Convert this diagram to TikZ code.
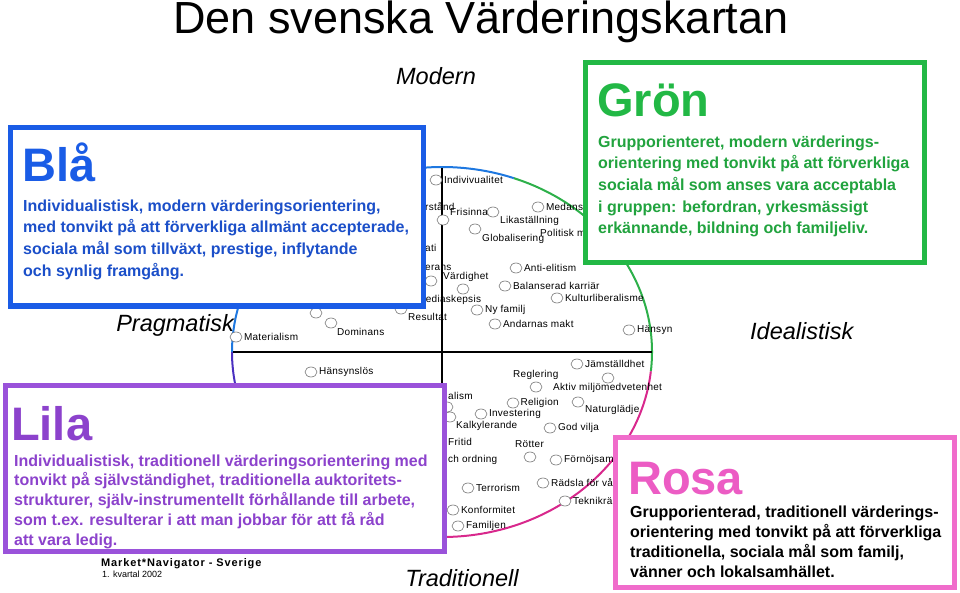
\documentclass[tikz,border=0pt]{standalone}
\usepackage{fontspec}
\setmainfont{Liberation Sans}
\newfontfamily\smallfont[LetterSpace=3]{Liberation Sans}
\newfontfamily\navfont[LetterSpace=8]{Liberation Sans}
\usetikzlibrary{shapes.geometric, positioning}
\definecolor{blaline}{HTML}{1A5CE6}
\definecolor{blatext}{HTML}{1B4FC9}
\definecolor{gronline}{HTML}{22B845}
\definecolor{grontext}{HTML}{21A33E}
\definecolor{lilaline}{HTML}{9A52DA}
\definecolor{lilatext}{HTML}{8C42CC}
\definecolor{rosaline}{HTML}{F06CCB}
\definecolor{rosatext}{HTML}{EC5CC4}
\definecolor{arcblue}{HTML}{1E78E0}
\definecolor{arcgreen}{HTML}{2DB04A}
\definecolor{arcpink}{HTML}{D8288C}
\definecolor{arcviolet}{HTML}{4A30C0}

\begin{document}
\begin{tikzpicture}[x=1pt, y=-1pt,
    dot/.style={ellipse, draw=black!55, fill=white, line width=0.6, minimum width=12, minimum height=10, inner sep=0},
    lbl/.style={inner sep=0, anchor=west, font=\smallfont\fontsize{10}{12}\selectfont},
    axis/.style={draw=black, line width=2},
    ring/.style={line width=2},
    box/.style={line width=5, fill=white},
    boxtitle/.style={inner sep=0, anchor=base west, font=\bfseries\fontsize{47}{50}\selectfont},
    boxtext/.style={inner sep=0, anchor=north west, align=left, font=\bfseries\fontsize{16}{21.7}\selectfont},
    pole/.style={inner sep=0, anchor=base, font=\itshape\fontsize{23.5}{26}\selectfont}]
\useasboundingbox (0,0) rectangle (960,593);
\coordinate (c) at (442,352);
\draw [ring, arcblue] (c) ++(-180:210 and 185) arc[start angle=-180, end angle=-70, x radius=210, y radius=185];
\draw [ring, arcgreen] (c) ++(-70:210 and 185) arc[start angle=-70, end angle=6, x radius=210, y radius=185];
\draw [ring, arcpink] (c) ++(6:210 and 185) arc[start angle=6, end angle=95, x radius=210, y radius=185];
\draw [ring, arcviolet] (c) ++(95:210 and 185) arc[start angle=95, end angle=180, x radius=210, y radius=185];
\coordinate (axN) at (442,168);
\coordinate (axS) at (442,553);
\coordinate (axW) at (233,352);
\coordinate (axE) at (652,352);
\draw [axis] (axN) -- (axS);
\draw [axis] (axW) -- (axE);

\node (title) [inner sep=0, anchor=base, font=\fontsize{45}{50}\selectfont] at (481,34) {Den svenska Värderingskartan};

\node (mIndiv) [dot] at (436,180) {};
\node (tIndiv) [lbl, right=1.5pt of mIndiv] {Indivivualitet};
\node (tForst) [lbl] at (425,207) {rstånd};
\node (mFris) [dot] at (443,220) {};
\node (tFris) [lbl] at (450,212) {Frisinnad};
\node (mLika) [dot] at (493,212) {};
\node (tLika) [lbl] at (500,221) {Likaställning};
\node (mMed) [dot] at (538,207) {};
\node (tMed) [lbl, right=1.5pt of mMed] {Medans};
\node (mGlob) [dot] at (475,229) {};
\node (tGlob) [lbl] at (482,239) {Globalisering};
\node (tPol) [lbl] at (540,233) {Politisk m};
\node (tDemo) [lbl] at (425,248) {ati};
\node (tTol) [lbl] at (425,268) {erans};
\node (mAnti) [dot] at (516,268) {};
\node (tAnti) [lbl, right=1.5pt of mAnti] {Anti-elitism};
\node (mVard) [dot] at (431,281) {};
\node (tVard) [lbl] at (443,277) {Värdighet};
\node (mMedia) [dot] at (463,289) {};
\node (tMedia) [lbl] at (417,300) {Mediaskepsis};
\node (mBal) [dot] at (505,286) {};
\node (tBal) [lbl, right=1.5pt of mBal] {Balanserad karriär};
\node (mKult) [dot] at (557,298) {};
\node (tKult) [lbl, right=1.5pt of mKult] {Kulturliberalisme};
\node (mNyf) [dot] at (477,310) {};
\node (tNyf) [lbl, right=1.5pt of mNyf] {Ny familj};
\node (mRes) [dot] at (401,309) {};
\node (tRes) [lbl] at (408,317) {Resultat};
\node (mAnd) [dot] at (495,324) {};
\node (tAnd) [lbl, right=1.5pt of mAnd] {Andarnas makt};
\node (mHans) [dot] at (629,330) {};
\node (tHans) [lbl, right=1.5pt of mHans] {Hänsyn};
\node (mMakt) [dot] at (316,313) {};
\node (mDom) [dot] at (331,323) {};
\node (tDom) [lbl] at (337,332) {Dominans};
\node (mMat) [dot] at (236,337) {};
\node (tMat) [lbl, right=1.5pt of mMat] {Materialism};

\node (mHlos) [dot] at (311,372) {};
\node (tHlos) [lbl, right=1.5pt of mHlos] {Hänsynslös};
\node (tRat) [lbl] at (448,396) {alism};
\node (mEgo) [dot] at (447,407) {};
\node (mKalk) [dot] at (450,417) {};
\node (tKalk) [lbl] at (456,426) {Kalkylerande};
\node (mInv) [dot] at (481,414) {};
\node (tInv) [lbl, right=1.5pt of mInv] {Investering};
\node (tFri) [lbl] at (448,442) {Fritid};
\node (tLag) [lbl] at (448,460) {ch ordning};
\node (mJam) [dot] at (577,364) {};
\node (tJam) [lbl, right=1.5pt of mJam] {Jämställdhet};
\node (mReg) [dot] at (536,387) {};
\node (tReg) [lbl] at (513,375) {Reglering};
\node (mAkt) [dot] at (608,378) {};
\node (tAkt) [lbl] at (553,388) {Aktiv miljömedvetenhet};
\node (mRel) [dot] at (513,403) {};
\node (tRel) [lbl, right=1pt of mRel] {Religion};
\node (mNat) [dot] at (578,402) {};
\node (tNat) [lbl] at (585,410) {Naturglädje};
\node (mGod) [dot] at (550,428) {};
\node (tGod) [lbl, right=1.5pt of mGod] {God vilja};
\node (mRot) [dot] at (530,457) {};
\node (tRot) [lbl] at (515,444) {Rötter};
\node (mForn) [dot] at (556,460) {};
\node (tForn) [lbl, right=1.5pt of mForn] {Förnöjsam};
\node (mTerr) [dot] at (468,488) {};
\node (tTerr) [lbl, right=1.5pt of mTerr] {Terrorism};
\node (mRad) [dot] at (543,483) {};
\node (tRad) [lbl, right=1.5pt of mRad] {Rädsla för vå};
\node (mTek) [dot] at (565,501) {};
\node (tTek) [lbl, right=1.5pt of mTek] {Teknikrä};
\node (mKonf) [dot] at (453,510) {};
\node (tKonf) [lbl, right=1.5pt of mKonf] {Konformitet};
\node (mFam) [dot] at (458,526) {};
\node (tFam) [lbl, right=1.5pt of mFam] {Familjen};

\draw [box, draw=blaline] (10.8,127.5) rectangle (423,306);
\node (blaTitle) [boxtitle, text=blaline] at (22,182) {Blå};
\node (blaText) [boxtext, text=blatext] at (23,199.3) {Individualistisk, modern värderingsorientering,\\med tonvikt på att förverkliga allmänt accepterade,\\sociala mål som tillväxt, prestige, inflytande\\och synlig framgång.};

\draw [box, draw=gronline] (585.5,62.5) rectangle (924.5,262.5);
\node (gronTitle) [boxtitle, text=gronline] at (597,117) {Grön};
\node (gronText) [boxtext, text=grontext] at (598,135.3) {Grupporienteret, modern värderings-\\orientering med tonvikt på att förverkliga\\sociala mål som anses vara acceptabla\\i gruppen: befordran, yrkesmässigt\\erkännande, bildning och familjeliv.};

\draw [box, draw=lilaline] (5.5,385.5) rectangle (444.5,551.5);
\node (lilaTitle) [boxtitle, text=lilatext] at (11,440) {Lila};
\node (lilaText) [boxtext, text=lilatext, font=\bfseries\fontsize{16}{19.8}\selectfont] at (14,454.3) {Individualistisk, traditionell värderingsorientering med\\tonvikt på självständighet, traditionella auktoritets-\\strukturer, själv-instrumentellt förhållande till arbete,\\som t.ex. resulterar i att man jobbar för att få råd\\att vara ledig.};

\draw [box, draw=rosaline] (615.5,437.5) rectangle (954.5,587.5);
\node (rosaTitle) [boxtitle, text=rosatext] at (628,494) {Rosa};
\node (rosaText) [boxtext, font=\bfseries\fontsize{16}{20.3}\selectfont] at (630,505.3) {Grupporienterad, traditionell värderings-\\orientering med tonvikt på att förverkliga\\traditionella, sociala mål som familj,\\vänner och lokalsamhället.};

\node (modern) [pole] at (436,85) {Modern};
\node (trad) [pole] at (462,586) {Traditionell};
\node (prag) [pole, anchor=base east] at (234,331) {Pragmatisk};
\node (ideal) [pole, anchor=base west] at (750,339) {Idealistisk};

\node (nav) [inner sep=0, anchor=base west, font=\navfont\bfseries\fontsize{11}{12}\selectfont] at (101,566) {Market*Navigator - Sverige};
\node (kvartal) [inner sep=0, anchor=base west, font=\fontsize{9}{10}\selectfont] at (102,577) {1. kvartal 2002};
\end{tikzpicture}
\end{document}
